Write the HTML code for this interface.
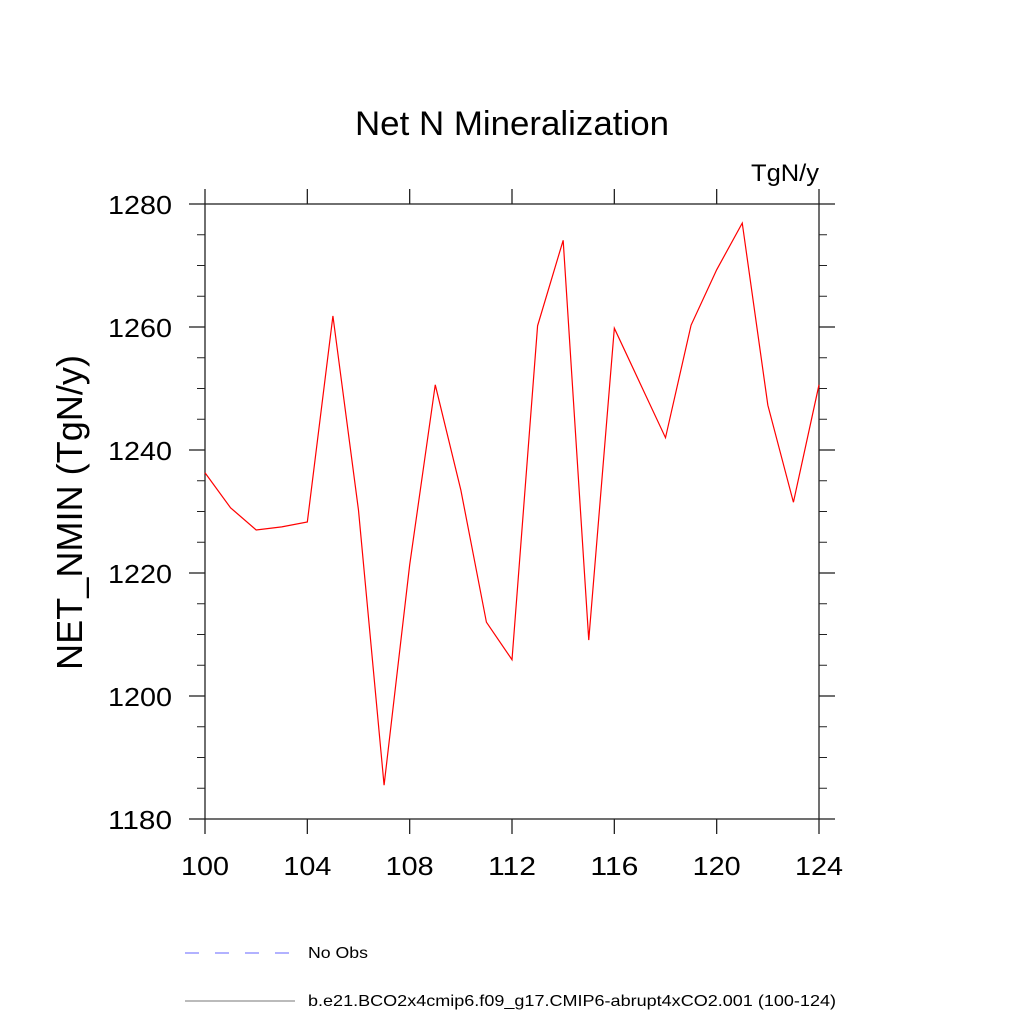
<!DOCTYPE html>
<html><head><meta charset="utf-8"><style>
body{margin:0;background:#fff}
svg{display:block;font-family:"Liberation Sans",sans-serif}
</style></head><body>
<svg id="chart" width="1024" height="1024" viewBox="0 0 1024 1024">
<text x="355" y="135" font-size="34" textLength="314" lengthAdjust="spacingAndGlyphs">Net N Mineralization</text>
<text x="751" y="181" font-size="24" textLength="68" lengthAdjust="spacingAndGlyphs">TgN/y</text>
<text transform="translate(82,670) rotate(-90)" font-size="36" textLength="315" lengthAdjust="spacingAndGlyphs">NET_NMIN  (TgN/y)</text>
<g id="axes"></g>
<polyline id="series" fill="none" stroke="#ff0000" stroke-width="1.2"/>
<line x1="185" y1="953" x2="295" y2="953" stroke="#6666ff" stroke-width="1" stroke-dasharray="14,16"/>
<text x="308" y="958" font-size="16" textLength="60" lengthAdjust="spacingAndGlyphs">No Obs</text>
<line x1="185" y1="1001" x2="295" y2="1001" stroke="#777" stroke-width="1"/>
<text x="308" y="1006" font-size="16" textLength="528" lengthAdjust="spacingAndGlyphs">b.e21.BCO2x4cmip6.f09_g17.CMIP6-abrupt4xCO2.001 (100-124)</text>
</svg>
<script>
const years=[100,101,102,103,104,105,106,107,108,109,110,111,112,113,114,115,116,117,118,119,120,121,122,123,124];
const values=[1236.3,1230.6,1227.0,1227.5,1228.3,1261.8,1230.2,1185.5,1221.3,1250.6,1233.5,1212.0,1205.9,1260.2,1274.1,1209.1,1259.8,1250.9,1242.0,1260.3,1269.3,1276.9,1247.3,1231.5,1250.6];
const xTicks=[100,104,108,112,116,120,124];
const yTicks=[1180,1200,1220,1240,1260,1280];
const L=205,R=819,T=204,B=819;
const xs=v=>L+(v-100)/24*(R-L);
const ys=v=>B-(v-1180)/100*(B-T);
const NS="http://www.w3.org/2000/svg";
const g=document.getElementById('axes');
function line(x1,y1,x2,y2,name,w){const l=document.createElementNS(NS,'line');
l.setAttribute('x1',x1);l.setAttribute('y1',y1);l.setAttribute('x2',x2);l.setAttribute('y2',y2);
l.setAttribute('stroke','#222');l.setAttribute('stroke-width',w||1.3);


g.appendChild(l);}
function text(x,y,s,anchor,name){const t=document.createElementNS(NS,'text');
t.setAttribute('x',x);t.setAttribute('y',y);t.setAttribute('font-size','26');t.setAttribute('text-anchor',anchor);
t.setAttribute('textLength',s.length*16);t.setAttribute('lengthAdjust','spacingAndGlyphs');t.textContent=s;


g.appendChild(t);}
const box=document.createElementNS(NS,'rect');
box.setAttribute('x',L);box.setAttribute('y',T);box.setAttribute('width',R-L);box.setAttribute('height',B-T);
box.setAttribute('fill','none');box.setAttribute('stroke','#222');box.setAttribute('stroke-width','1.3');


g.appendChild(box);
xTicks.forEach(v=>{const x=xs(v);line(x,B,x,B+15,'x-tick');line(x,T,x,T-15,'x-tick-top');text(x,875,String(v),'middle','x-tick-label');});
for(let v=1180;v<=1280;v+=5){const y=ys(v);const major=(v%20===0);const len=major?16:8;
line(L-len,y,L,y,major?'y-tick':'y-minor-tick',major?1.3:1);line(R,y,R+len,y,major?'y-tick-right':'y-minor-tick-right',major?1.3:1);}
yTicks.forEach(v=>{text(172,ys(v)+10,String(v),'end','y-tick-label');});
document.getElementById('series').setAttribute('points',years.map((y,i)=>xs(y)+','+ys(values[i])).join(' '));
</script>
</body></html>
